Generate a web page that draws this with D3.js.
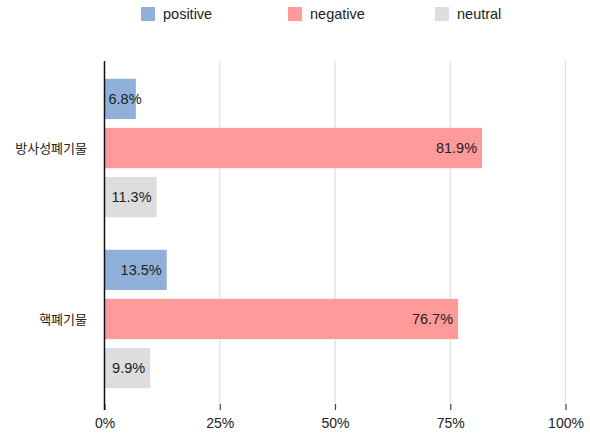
<!DOCTYPE html>
<html>
<head>
<meta charset="utf-8">
<script src="https://cdn.jsdelivr.net/npm/d3@7"></script>
<style>
  html, body { margin: 0; padding: 0; background: #fff; }
  svg { display: block; font-family: "Liberation Sans", Arial, "Noto Sans CJK KR", sans-serif; }
</style>
</head>
<body>
<svg id="chart" width="590" height="436"></svg>
<script>
// Survey response shares (%) by term
const categories = ["방사성폐기물", "핵폐기물"];
const seriesNames = ["positive", "negative", "neutral"];
const positive = [6.8, 13.5];
const negative = [81.9, 76.7];
const neutral = [11.3, 9.9];
const tickValues = [0, 25, 50, 75, 100];
const tickLabels = ["0%", "25%", "50%", "75%", "100%"];
const colors = ["#8fb1d9", "#ff9a9a", "#dddddd"];

const seriesValues = { positive, negative, neutral };
const rows = categories.map((c, i) => ({
  category: c,
  values: seriesNames.map(s => ({ key: s, value: seriesValues[s][i] }))
}));

const svg = d3.select("#chart");
const plotLeft = 104.5, plotRight = 565.5, plotTop = 61, plotBottom = 404;

const x = d3.scaleLinear().domain([0, 100]).range([plotLeft, plotRight]);
const y0 = d3.scaleBand().domain(categories).range([plotTop, 406])
  .paddingInner(0.19).paddingOuter(0.104);
const y1 = d3.scaleBand().domain(seriesNames).range([0, y0.bandwidth()])
  .paddingInner(0.18).paddingOuter(0);
const color = d3.scaleOrdinal().domain(seriesNames).range(colors);

// vertical gridlines
svg.append("g")
  .selectAll("line")
  .data(tickValues.filter(d => d > 0))
  .join("line")
  .attr("x1", d => x(d)).attr("x2", d => x(d))
  .attr("y1", plotTop).attr("y2", plotBottom)
  .attr("stroke", "#dedede").attr("stroke-width", 1.2);

// bottom axis: ticks and labels only
const xAxis = svg.append("g")
  .attr("transform", `translate(0,${plotBottom})`)
  .call(d3.axisBottom(x).tickValues(tickValues)
    .tickFormat((d, i) => tickLabels[i]).tickSize(6).tickPadding(8));
xAxis.select(".domain").remove();
xAxis.selectAll(".tick line").attr("stroke", "#444").attr("stroke-width", 1.2);
xAxis.selectAll(".tick text")
  .attr("font-size", 14).attr("fill", "#222")
  .attr("font-family", "'Liberation Sans', Arial, sans-serif");

// bars
const groups = svg.append("g")
  .selectAll("g")
  .data(rows)
  .join("g")
  .attr("transform", d => `translate(0,${y0(d.category)})`);

groups.selectAll("rect")
  .data(d => d.values)
  .join("rect")
  .attr("x", x(0))
  .attr("y", d => y1(d.key))
  .attr("width", d => x(d.value) - x(0))
  .attr("height", y1.bandwidth())
  .attr("fill", d => color(d.key));

// value labels at the bar end, kept clear of the axis for short bars
groups.selectAll("text.val")
  .data(d => d.values)
  .join("text")
  .attr("class", "val")
  .attr("y", d => y1(d.key) + y1.bandwidth() / 2)
  .attr("dy", "0.36em")
  .attr("font-size", 14.5)
  .attr("fill", "#222")
  .text(d => d.value.toFixed(1) + "%")
  .each(function(d) {
    const w = this.getComputedTextLength();
    const end = x(d.value) - 5;
    const minEnd = x(0) + 4 + w;
    d3.select(this).attr("text-anchor", "end").attr("x", Math.max(end, minEnd));
  });

// left axis line
svg.append("line")
  .attr("x1", plotLeft).attr("x2", plotLeft)
  .attr("y1", plotTop).attr("y2", plotBottom + 6)
  .attr("stroke", "#111").attr("stroke-width", 1.5);

// category labels
svg.append("g")
  .selectAll("text")
  .data(categories)
  .join("text")
  .attr("x", 87)
  .attr("y", d => y0(d) + y0.bandwidth() / 2)
  .attr("dy", "0.36em")
  .attr("text-anchor", "end")
  .attr("font-size", 13)
  .attr("fill", "#222")
  .attr("font-family", "'Noto Sans CJK KR', sans-serif")
  .text(d => d);

// legend
const legend = svg.append("g")
  .selectAll("g")
  .data(seriesNames)
  .join("g")
  .attr("transform", (d, i) => `translate(${141 + i * 147},7)`);
legend.append("rect")
  .attr("width", 14).attr("height", 14)
  .attr("fill", d => color(d));
legend.append("text")
  .attr("x", 22).attr("y", 7).attr("dy", "0.36em")
  .attr("font-size", 14.5).attr("fill", "#222")
  .text(d => d);
</script>
</body>
</html>
